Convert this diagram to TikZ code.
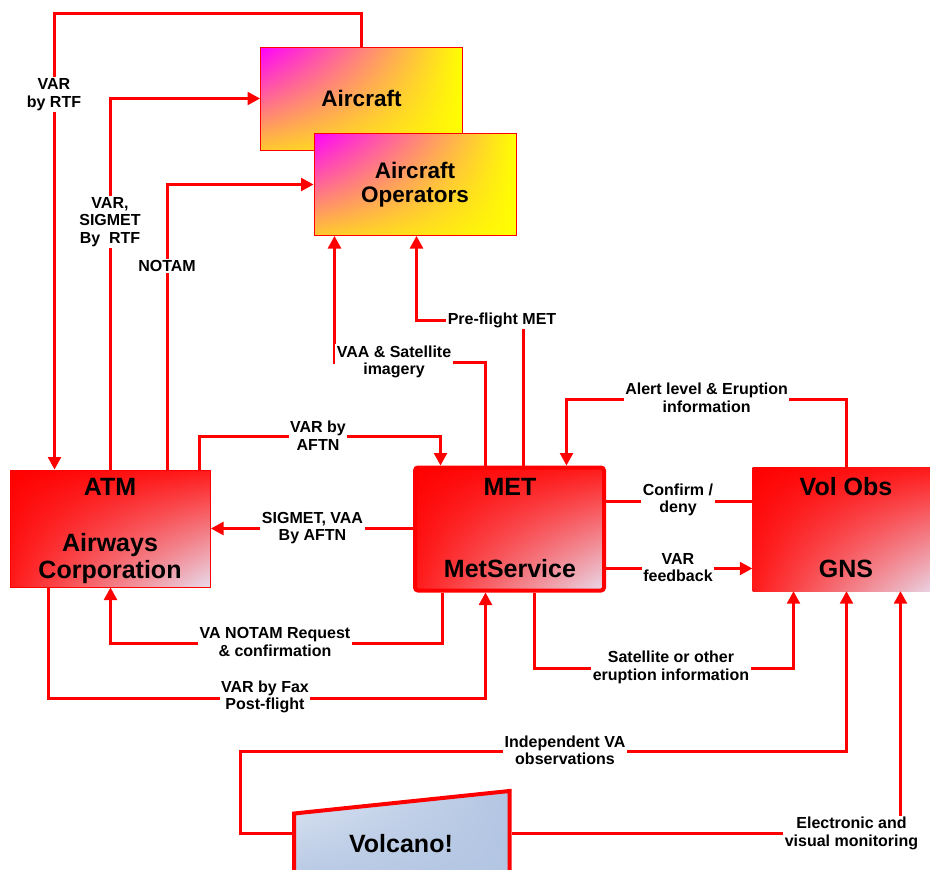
\documentclass[tikz,border=0pt]{standalone}
\usepackage{fontspec}
\setmainfont{Liberation Sans}
\usetikzlibrary{arrows.meta,shadings}
\definecolor{vred}{HTML}{FF0000}
\definecolor{vmag}{HTML}{FF00FF}
\definecolor{vyel}{HTML}{FFFF00}
\definecolor{vorg}{HTML}{FFC830}
\definecolor{vpale}{HTML}{E8DCEC}
\definecolor{vred2}{HTML}{FF1A1A}
\definecolor{vblue1}{HTML}{DCE4F2}
\definecolor{vblue2}{HTML}{B2C5E2}
\begin{document}
\begin{tikzpicture}[x=1pt,y=-1pt,
  conn/.style={draw=vred, line width=2.4pt},
  arr/.style={conn, -{Triangle[length=12.5pt,width=13pt]}},
  lbl/.style={fill=white, inner sep=1.5pt, align=center, font=\fontsize{16}{17.5}\selectfont\bfseries},
  abox/.style={draw=vred, line width=1pt, shade, upper left=vmag, upper right=vyel, lower left=vorg, lower right=vyel, align=center, inner sep=0pt, font=\fontsize{22.5}{23.5}\selectfont\bfseries},
  rbox/.style={shade, upper left=vred, upper right=vred2, lower left=vred2, lower right=vpale, inner sep=0pt},
  ttl/.style={anchor=base, inner sep=0pt, font=\fontsize{25}{28}\selectfont\bfseries}
]
\useasboundingbox (0,0) rectangle (930,870);
\clip (0,0) rectangle (930,870);

% boxes
\node[abox, minimum width=202pt, minimum height=103pt] (air) at (361.5,98.5) {Aircraft};
\node[abox, minimum width=202pt, minimum height=102pt] (ops) at (415,184.5) {Aircraft\\Operators};
\node[rbox, draw=vred, line width=1pt, minimum width=200pt, minimum height=117pt] (atm) at (110.5,528.5) {};
\node[rbox, draw=vred, line width=4pt, rounded corners=3pt, minimum width=189pt, minimum height=123pt] (met) at (509.5,529) {};
\node[rbox, minimum width=188pt, minimum height=124pt] (volobs) at (846.5,529) {};

\node[ttl] (atmA) at (110,495) {ATM};
\node[ttl] (atmB) at (110,551) {Airways};
\node[ttl] (atmC) at (110,578) {Corporation};
\node[ttl] (metA) at (510,495) {MET};
\node[ttl] (metB) at (510,577.5) {MetService};
\node[ttl] (volA) at (846,495) {Vol Obs};
\node[ttl] (volB) at (846,577.5) {GNS};

% volcano
\path[draw=vred, line width=4pt, shade, upper left=vblue1, upper right=vblue2, lower left=vblue2, lower right=vblue2]
  (294,813.5) -- (509.5,791) -- (509.5,890) -- (294,890) -- cycle;
\node[ttl] (volc) at (401,852.5) {Volcano!};
\coordinate (vL) at (292,833.5);
\coordinate (vR) at (511.5,833.5);

% bend coordinates
\coordinate (k1) at (54.5,13.5);
\coordinate (k3) at (167.5,0);
\coordinate (k4a) at (199.5,436.5);
\coordinate (k4b) at (440.5,436.5);
\coordinate (k6a) at (485.5,362.5);
\coordinate (k6b) at (334.5,362.5);
\coordinate (k7a) at (523.5,320.5);
\coordinate (k7b) at (416.5,320.5);
\coordinate (k8) at (566.5,399.5);
\coordinate (k9) at (0,501.5);
\coordinate (k10) at (0,568.5);
\coordinate (k11) at (442.5,643.5);
\coordinate (k12a) at (48.5,698.5);
\coordinate (k12b) at (485.5,698.5);
\coordinate (k13a) at (534.5,668.5);
\coordinate (k13b) at (793.5,668.5);
\coordinate (k14) at (240.5,751.5);
\coordinate (k15) at (900.5,833.5);

% connectors
\draw[arr] (air.north) |- (k1) -- (k1 |- atm.north);
\draw[arr] (atm.north) |- (air.west);
\draw[arr] (atm.north -| k3) |- (ops.west);
\draw[arr] (atm.north -| k4a) -- (k4a) -- (k4b) -- (k4b |- met.north);
\draw[arr] (met.west |- atm.east) -- (atm.east);
\draw[arr] (met.north -| k6a) -- (k6a) -- (k6b) -- (k6b |- ops.south);
\draw[arr] (met.north -| k7a) -- (k7a) -- (k7b) -- (k7b |- ops.south);
\draw[arr] (volobs.north) |- (k8) -- (k8 |- met.north);
\draw[conn] (met.east |- k9) -- (volobs.west |- k9);
\draw[arr] (met.east |- k10) -- (volobs.west |- k10);
\draw[arr] (met.south -| k11) -- (k11) -| (atm.south);
\draw[arr] (atm.south -| k12a) -- (k12a) -- (k12b) -- (k12b |- met.south);
\draw[arr] (met.south -| k13a) -- (k13a) -- (k13b) -- (k13b |- volobs.south);
\draw[arr] (vL) -| (k14) -| (volobs.south);
\draw[arr] (vR) -- (k15) -- (k15 |- volobs.south);

% labels
\node[lbl] (l1) at (54,94.5) {VAR\\by RTF};
\node[lbl] (l2) at (110,222) {VAR,\\SIGMET\\By~~RTF};
\node[lbl] (l3) at (167,266) {NOTAM};
\node[lbl] (l4) at (318,435.5) {VAR by\\AFTN};
\node[lbl] (l5) at (312.5,528) {SIGMET, VAA\\By AFTN};
\node[lbl] (l6) at (394,362) {VAA \& Satellite\\imagery};
\node[lbl] (l7) at (502,320) {Pre-flight MET};
\node[lbl] (l8) at (706.6,398) {Alert level \& Eruption\\information};
\node[lbl] (l9) at (678,500) {Confirm /\\deny};
\node[lbl] (l10) at (678,567.5) {VAR\\feedback};
\node[lbl] (l11) at (275,642) {VA NOTAM Request\\\& confirmation};
\node[lbl] (l12) at (265,697) {VAR by Fax\\Post-flight};
\node[lbl] (l13) at (671,667.5) {Satellite or other\\eruption information};
\node[lbl] (l14) at (565,750.5) {Independent VA\\observations};
\node[lbl] (l15) at (851.5,833.5) {Electronic and\\visual monitoring};
\end{tikzpicture}
\end{document}
